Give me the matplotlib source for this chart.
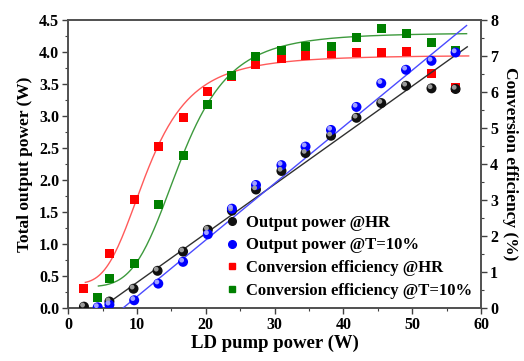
import numpy as np
import matplotlib
matplotlib.use('Agg')
import matplotlib.pyplot as plt
from matplotlib.transforms import offset_copy
from matplotlib.lines import Line2D

plt.rcParams['font.family'] = 'Liberation Serif'
plt.rcParams['font.weight'] = 'bold'

# LD pump power (W)
pump_hr = [2.3, 6.0, 9.5, 13.0, 16.7, 20.3, 23.8, 27.3, 31.0, 34.5, 38.2, 41.9, 45.5, 49.1, 52.8, 56.3]
pump_t10 = [4.3, 6.0, 9.6, 13.1, 16.7, 20.3, 23.8, 27.3, 31.0, 34.5, 38.2, 41.9, 45.5, 49.1, 52.8, 56.3]
eff_pump_hr = [2.3, 6.0, 9.6, 13.2, 16.7, 20.3, 23.8, 27.3, 31.0, 34.5, 38.2, 41.9, 45.5, 49.1, 52.8, 56.3]
eff_pump_t10 = [4.2, 6.0, 9.6, 13.2, 16.7, 20.3, 23.8, 27.3, 31.0, 34.5, 38.2, 41.9, 45.5, 49.1, 52.8, 56.3]

# total output power (W)
power_hr = [0.02, 0.10, 0.30, 0.58, 0.88, 1.22, 1.52, 1.85, 2.14, 2.42, 2.69, 2.97, 3.20, 3.47, 3.43, 3.42]
power_t10 = [0.01, 0.05, 0.12, 0.38, 0.72, 1.15, 1.55, 1.92, 2.23, 2.52, 2.78, 3.14, 3.51, 3.72, 3.86, 3.99]

# conversion efficiency (%)
eff_hr = [0.53, 1.51, 3.02, 4.48, 5.28, 6.01, 6.44, 6.76, 6.92, 7.00, 7.06, 7.08, 7.08, 7.11, 6.52, 6.13]
eff_t10 = [0.30, 0.82, 1.24, 2.88, 4.23, 5.64, 6.45, 6.99, 7.16, 7.25, 7.25, 7.50, 7.75, 7.61, 7.36, 7.16]

# linear fits: slope, intercept, x range
lin_hr = (0.0767, -0.37, 5.8, 58.0)
lin_t10 = (0.0884, -0.707, 8.0, 57.9)
# Hill fits of efficiency: A1, A2, k, n, x range
hill_hr = (0.68, 7.02, 11.6, 3.5, 2.5, 58.2)
hill_t10 = (0.59, 7.64, 16.4, 4.5, 4.4, 57.9)

labels = ['Output power @HR', 'Output power @T=10%',
          'Conversion efficiency @HR', 'Conversion efficiency @T=10%']


def hill(p):
    a1, a2, k, n, x0, x1 = p
    x = np.linspace(x0, x1, 200)
    return x, a1 + (a2 - a1) * x**n / (k**n + x**n)


def linfit(p):
    m, b, x0, x1 = p
    x = np.linspace(x0, x1, 50)
    return x, m * x + b


def balls(ax, x, y, color, shine):
    ax.scatter(x, y, s=52, color=color, zorder=5, edgecolors='none')
    hl = offset_copy(ax.transData, fig=ax.figure, x=-1.0, y=1.2, units='points')
    ax.scatter(x, y, s=12, color=shine, zorder=6, edgecolors='none', transform=hl)


fig = plt.figure(figsize=(5.24, 3.61), dpi=100)
ax = fig.add_axes([0.130, 0.147, 0.788, 0.798])
ax2 = ax.twinx()

ax.set_zorder(ax2.get_zorder() + 1)
ax.patch.set_visible(False)

x, y = linfit(lin_hr)
ax.plot(x, y, color='#303030', lw=1.0, zorder=3)
x, y = linfit(lin_t10)
ax.plot(x, y, color='#4a4aff', lw=1.0, zorder=3)

x, y = hill(hill_hr)
ax2.plot(x, y, color='#ff5a5a', lw=1.0)
x, y = hill(hill_t10)
ax2.plot(x, y, color='#3d9a3d', lw=1.0)

ax2.scatter(eff_pump_hr, eff_hr, marker='s', s=42, color='#ff0000', edgecolors='none', zorder=4)
ax2.scatter(eff_pump_t10, eff_t10, marker='s', s=42, color='#008000', edgecolors='none', zorder=4)

balls(ax, pump_hr, power_hr, '#101010', '#9a9a9a')
balls(ax, pump_t10, power_t10, '#0000ff', '#a0a0ff')

ax.set_xlim(0, 60)
ax.set_ylim(0, 4.5)
ax2.set_ylim(0, 8)
ax.set_xticks(np.arange(0, 61, 10))
ax.set_xticks(np.arange(5, 60, 10), minor=True)
ax.set_yticks(np.arange(0, 4.51, 0.5))
ax.set_yticks(np.arange(0.25, 4.5, 0.5), minor=True)
ax2.set_yticks(np.arange(0, 9, 1))
ax2.set_yticks(np.arange(0.5, 8, 1), minor=True)

for a in (ax, ax2):
    a.tick_params(which='major', direction='out', length=4, width=1.0, labelsize=11.5, color='#404040', pad=2.5)
    a.tick_params(which='minor', direction='out', length=2.5, width=0.8, color='#404040')
    for s in a.spines.values():
        s.set_linewidth(1.2)
        s.set_color('#505050')
ax.yaxis.set_major_formatter(matplotlib.ticker.FormatStrFormatter('%.1f'))

ax.set_xlabel('LD pump power (W)', fontsize=13.5, fontweight='bold', labelpad=1)
ax.set_ylabel('Total output power (W)', fontsize=12.5, fontweight='bold', labelpad=4)
ax2.set_ylabel('Conversion efficiency (%)', fontsize=12.5, fontweight='bold', rotation=-90, labelpad=14)

handles = [
    Line2D([], [], marker='o', ls='none', color='#101010', markersize=5.5),
    Line2D([], [], marker='o', ls='none', color='#0000ff', markersize=5.5),
    Line2D([], [], marker='s', ls='none', color='#ff0000', markersize=5),
    Line2D([], [], marker='s', ls='none', color='#008000', markersize=5),
]
ax.legend(handles, labels, loc='lower right', frameon=False,
          prop={'size': 12, 'weight': 'bold'}, handletextpad=0.3,
          handlelength=1.0, labelspacing=0.4, borderaxespad=0.15)

fig.savefig('out.png', dpi=100)
